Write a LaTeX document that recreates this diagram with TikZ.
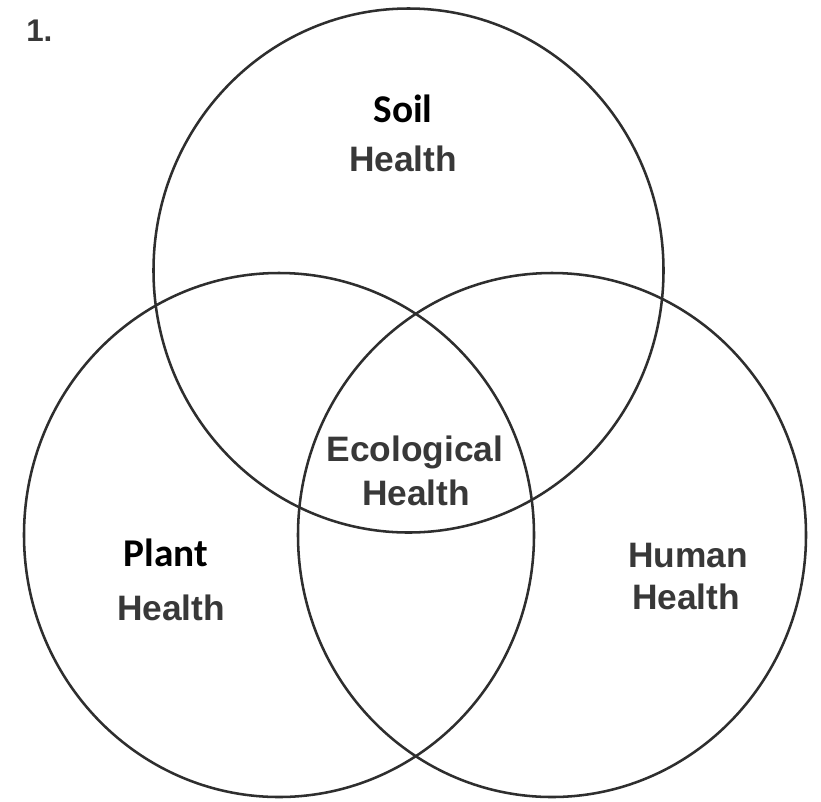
\documentclass[tikz,border=0pt]{standalone}
\usepackage{fontspec}
\setmainfont{Liberation Sans}
\newfontfamily\calib{Carlito}
\definecolor{linegray}{HTML}{2E2E2E}
\definecolor{txtgray}{HTML}{383838}
\begin{document}
\begin{tikzpicture}[x=0.75pt,y=-0.75pt,
  ring/.style={draw=linegray,line width=1.9pt},
  hlabel/.style={anchor=base,inner sep=0pt,text=txtgray,font=\fontsize{26.5}{29}\selectfont\bfseries},
  clabel/.style={anchor=base,inner sep=0pt,text=black,font=\fontsize{29.5}{33}\selectfont\calib\bfseries}]
\useasboundingbox[fill=white] (0,0) rectangle (821,801);
\draw[ring] (408.5,270.5) ellipse [x radius=255, y radius=262];
\draw[ring] (279,535) ellipse [x radius=255, y radius=262];
\draw[ring] (552,535) ellipse [x radius=254, y radius=262];
\node[anchor=base west,inner sep=0pt,text=txtgray,font=\fontsize{23.5}{26}\selectfont\bfseries] (num) at (26,41) {1.};
\node[clabel] (soil) at (403,122) {Soil};
\node[hlabel] (soilh) at (403,171) {Health};
\node[clabel] (plant) at (166,566) {Plant};
\node[hlabel] (planth) at (171,620) {Health};
\node[hlabel] (eco) at (415,461) {Ecological};
\node[hlabel] (ecoh) at (416,505) {Health};
\node[hlabel] (human) at (688,567) {Human};
\node[hlabel] (humanh) at (686,609) {Health};
\end{tikzpicture}
\end{document}
